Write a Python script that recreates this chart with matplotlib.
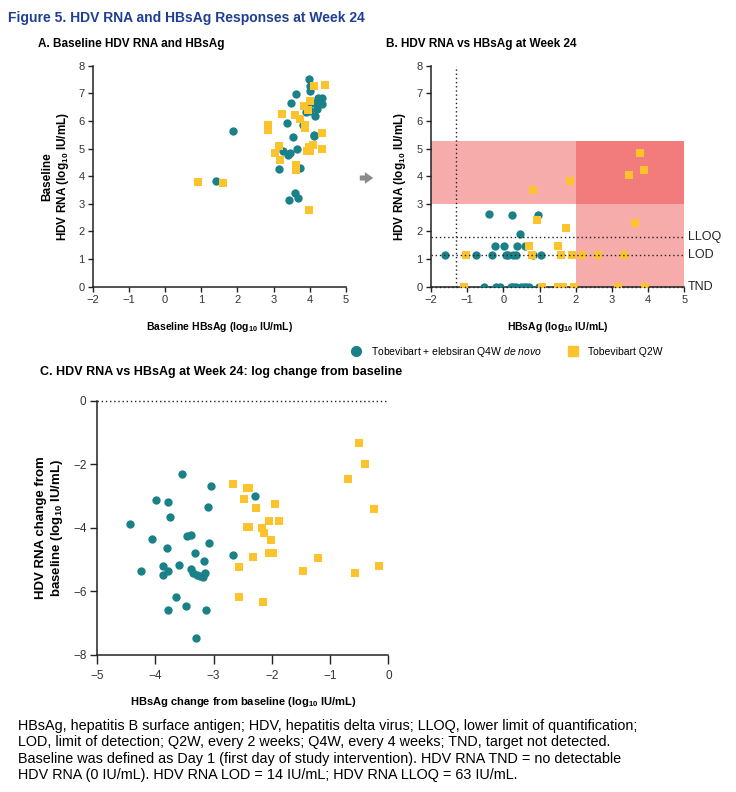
import matplotlib
matplotlib.use('Agg')
import matplotlib.pyplot as plt
from matplotlib.lines import Line2D
from matplotlib.patches import Rectangle, FancyArrowPatch

plt.rcParams['font.family'] = ['Liberation Sans', 'DejaVu Sans']
plt.rcParams['mathtext.fontset'] = 'custom'
plt.rcParams['mathtext.rm'] = 'Liberation Sans:bold'
plt.rcParams['mathtext.it'] = 'Liberation Sans:italic'
plt.rcParams['mathtext.default'] = 'rm'

TEAL = '#1b8189'
YEL = '#fcc32c'
BLUE = '#1f3f94'

# panel A: baseline HBsAg vs baseline HDV RNA (log10 IU/mL)
a_teal_x = [1.88, 1.42, 3.97, 4.02, 4.00, 3.62, 3.49, 4.23, 4.34, 4.13, 4.26, 4.34, 4.19, 3.95,
            3.91, 4.02, 4.15, 3.82, 3.36, 4.12, 4.12, 3.55, 3.65, 3.25, 3.45, 3.41, 3.16, 3.74,
            3.58, 3.43, 3.67]
a_teal_y = [5.63, 3.81, 7.52, 7.28, 7.10, 6.99, 6.65, 6.84, 6.84, 6.65, 6.67, 6.60, 6.43, 6.48,
            6.31, 6.36, 6.19, 5.87, 5.92, 5.50, 5.45, 5.42, 5.00, 4.90, 4.84, 4.78, 4.26, 4.30,
            3.41, 3.14, 3.22]
a_yel_x = [0.92, 1.61, 2.84, 2.84, 3.04, 3.15, 3.17, 3.24, 3.59, 3.63, 3.63, 3.72, 3.83, 3.87,
           3.86, 3.93, 3.97, 3.97, 4.01, 4.10, 4.02, 4.12, 4.34, 4.34, 4.41, 3.95]
a_yel_y = [3.78, 3.75, 5.87, 5.68, 4.84, 5.11, 4.59, 6.25, 6.20, 4.41, 4.23, 6.08, 6.53, 5.86,
           5.74, 4.93, 5.05, 2.78, 6.73, 5.14, 4.93, 7.25, 5.56, 4.98, 7.31, 6.38]

# panel B: week 24 HBsAg vs week 24 HDV RNA
b_teal_x = [-0.39, 0.25, 0.97, 0.47, -0.22, 0.02, 0.39, 0.61,
            -1.61, -0.75, -0.31, 0.08, 0.12, 0.28, 0.35, 0.83, 1.04,
            -0.53, -0.20, -0.09, 0.22, 0.28, 0.35, 0.48, 0.56, 0.63, 0.71, 0.99]
b_teal_y = [2.63, 2.61, 2.58, 1.90, 1.48, 1.48, 1.48, 1.48,
            1.146, 1.146, 1.146, 1.146, 1.146, 1.146, 1.146, 1.146, 1.146,
            0, 0, 0, 0, 0, 0, 0, 0, 0, 0, 0]
b_yel_x = [0.81, 1.84, 3.47, 3.78, 3.89, 0.93, 1.73, 3.65, 0.72, 1.50,
           -1.04, 0.79, 1.59, 1.91, 2.17, 2.63, 3.33,
           -1.10, 1.08, 1.50, 1.65, 1.94, 3.17, 3.91]
b_yel_y = [3.50, 3.84, 4.04, 4.85, 4.24, 2.40, 2.12, 2.30, 1.49, 1.48,
           1.146, 1.146, 1.146, 1.146, 1.146, 1.146, 1.146,
           0, 0, 0, 0, 0, 0, 0]

# panel C: change from baseline
c_teal_x = [-4.43, -4.24, -4.06, -3.99, -3.87, -3.87, -3.80, -3.79, -3.79, -3.79, -3.75, -3.64,
            -3.60, -3.54, -3.48, -3.46, -3.39, -3.39, -3.36, -3.32, -3.30, -3.29, -3.24, -3.18,
            -3.17, -3.15, -3.13, -3.09, -3.07, -3.05, -2.66, -2.29]
c_teal_y = [-3.88, -5.35, -4.36, -3.12, -5.21, -5.49, -4.64, -3.19, -5.35, -6.60, -3.65, -6.16,
            -5.17, -2.29, -6.46, -4.26, -4.23, -5.30, -5.41, -4.78, -7.47, -5.48, -5.53, -5.56,
            -5.04, -5.43, -6.60, -3.33, -4.49, -2.68, -4.86, -2.99]
c_yel_x = [-2.67, -2.56, -2.56, -2.47, -2.43, -2.39, -2.42, -2.39, -2.32, -2.27, -2.16, -2.13,
           -2.15, -2.05, -2.04, -2.01, -1.98, -1.94, -1.87, -1.47, -1.21, -0.69, -0.58, -0.50,
           -0.40, -0.25, -0.16]
c_yel_y = [-2.62, -5.24, -6.16, -3.09, -2.73, -2.76, -3.98, -3.98, -4.91, -3.39, -3.99, -4.17,
           -6.32, -4.78, -3.77, -4.38, -4.79, -3.25, -3.79, -5.35, -4.94, -2.47, -5.41, -1.32,
           -1.99, -3.40, -5.20]

LOD = 1.146   # log10(14)
LLOQ = 1.80   # log10(63)
HBS_LLOQ = -1.30

fig = plt.figure(figsize=(7.36, 7.92), dpi=100)


def style(ax, size=8, tick_len=3.5):
    for s in ['top', 'right']:
        ax.spines[s].set_visible(False)
    for s in ['left', 'bottom']:
        ax.spines[s].set_linewidth(1.1)
        ax.spines[s].set_color('#222222')
    ax.tick_params(labelsize=size, width=1.0, length=tick_len, pad=2.5, colors='#222222', labelcolor='#333333')


def pts(ax, tx, ty, yx, yy):
    ax.scatter(tx, ty, s=36, marker='o', color=TEAL, zorder=3, linewidths=0)
    ax.scatter(yx, yy, s=40, marker='s', color=YEL, zorder=3, linewidths=0)


xlab = dict(fontsize=7.5, fontweight='bold')
ylab = dict(fontsize=8.5, fontweight='bold')

# A
axA = fig.add_axes([0.126, 0.638, 0.344, 0.279])
pts(axA, a_teal_x, a_teal_y, a_yel_x, a_yel_y)
axA.set_xlim(-2, 5)
axA.set_ylim(0, 8)
axA.set_xticks(range(-2, 6))
axA.set_yticks(range(0, 9))
style(axA)
axA.set_xlabel(r'Baseline HBsAg (log$_{10}$ IU/mL)', labelpad=11, **xlab)
axA.set_ylabel('Baseline\n' + r'HDV RNA (log$_{10}$ IU/mL)', labelpad=5, **ylab)

# B
axB = fig.add_axes([0.5856, 0.638, 0.344, 0.279])
red = (236 / 255, 57 / 255, 57 / 255)
axB.add_patch(Rectangle((-2, 3), 7, 2.26, color=red, alpha=0.415, lw=0, zorder=0))
axB.add_patch(Rectangle((2, 0), 3, 5.26, color=red, alpha=0.415, lw=0, zorder=0))
pts(axB, b_teal_x, b_teal_y, b_yel_x, b_yel_y)
for yv in [LLOQ, LOD, 0]:
    axB.plot([-2, 5], [yv, yv], ls=(0, (1, 2)), color='#222222', lw=1, zorder=4, clip_on=False)
axB.plot([HBS_LLOQ, HBS_LLOQ], [0, 8], ls=(0, (1, 2)), color='#222222', lw=1, zorder=4)
for yv, t in [(LLOQ, 'LLOQ'), (LOD, 'LOD'), (0, 'TND')]:
    axB.text(5.1, yv, t, fontsize=9, va='center', ha='left', color='#222222')
axB.set_xlim(-2, 5)
axB.set_ylim(0, 8)
axB.set_xticks(range(-2, 6))
axB.set_yticks(range(0, 9))
style(axB)
axB.set_xlabel(r'HBsAg (log$_{10}$ IU/mL)', labelpad=11, **xlab)
axB.set_ylabel(r'HDV RNA (log$_{10}$ IU/mL)', labelpad=6, **ylab)

# C
axC = fig.add_axes([0.1318, 0.173, 0.3958, 0.321])
pts(axC, c_teal_x, c_teal_y, c_yel_x, c_yel_y)
axC.plot([-5, 0], [0, 0], ls=(0, (1, 2)), color='#222222', lw=1, zorder=4, clip_on=False)
axC.set_xlim(-5, 0)
axC.set_ylim(-8, 0)
axC.set_xticks(range(-5, 1))
axC.set_yticks([0, -2, -4, -6, -8])
style(axC, 8.5, 5)
axC.tick_params(axis='x', length=6.5, pad=4)
axC.set_xlabel(r'HBsAg change from baseline (log$_{10}$ IU/mL)', labelpad=10, fontsize=8, fontweight='bold')
axC.set_ylabel('HDV RNA change from\n' + r'baseline (log$_{10}$ IU/mL)', labelpad=6, fontsize=9.5,
               fontweight='bold')

# titles
fig.text(8 / 736, 1 - 18 / 792, 'Figure 5. HDV RNA and HBsAg Responses at Week 24', fontsize=10,
         fontweight='bold', color=BLUE, va='center')
fig.text(38 / 736, 1 - 44 / 792, 'A. Baseline HDV RNA and HBsAg', fontsize=8.5, fontweight='bold', va='center')
fig.text(386 / 736, 1 - 44 / 792, 'B. HDV RNA vs HBsAg at Week 24', fontsize=8.5, fontweight='bold', va='center')
fig.text(40 / 736, 1 - 372 / 792, 'C. HDV RNA vs HBsAg at Week 24: log change from baseline', fontsize=9,
         fontweight='bold', va='center')

# arrow between A and B
fig.add_artist(FancyArrowPatch((357 / 736, 1 - 178 / 792), (376 / 736, 1 - 178 / 792),
                               transform=fig.transFigure, arrowstyle='simple,head_width=0.7,head_length=0.5,tail_width=0.3',
                               mutation_scale=12, color='#8a8a8a', lw=0))

# legend
handles = [Line2D([], [], marker='o', ls='', color=TEAL, markersize=7),
           Line2D([], [], marker='s', ls='', color=YEL, markersize=7)]
fig.legend(handles, [r'Tobevibart + elebsiran Q4W $\it{de\ novo}$', 'Tobevibart Q2W'],
           loc='center', bbox_to_anchor=(504 / 736, 1 - 352 / 792), ncol=2, frameon=False,
           fontsize=7.5, handletextpad=0.4, columnspacing=2.0)

footer = ('HBsAg, hepatitis B surface antigen; HDV, hepatitis delta virus; LLOQ, lower limit of quantification;\n'
          'LOD, limit of detection; Q2W, every 2 weeks; Q4W, every 4 weeks; TND, target not detected.\n'
          'Baseline was defined as Day 1 (first day of study intervention). HDV RNA TND = no detectable\n'
          'HDV RNA (0 IU/mL). HDV RNA LOD = 14 IU/mL; HDV RNA LLOQ = 63 IU/mL.')
fig.text(18 / 736, 1 - 719 / 792, footer, fontsize=10.4, va='top', ha='left', linespacing=1.22)

fig.savefig('out.png', dpi=100)
